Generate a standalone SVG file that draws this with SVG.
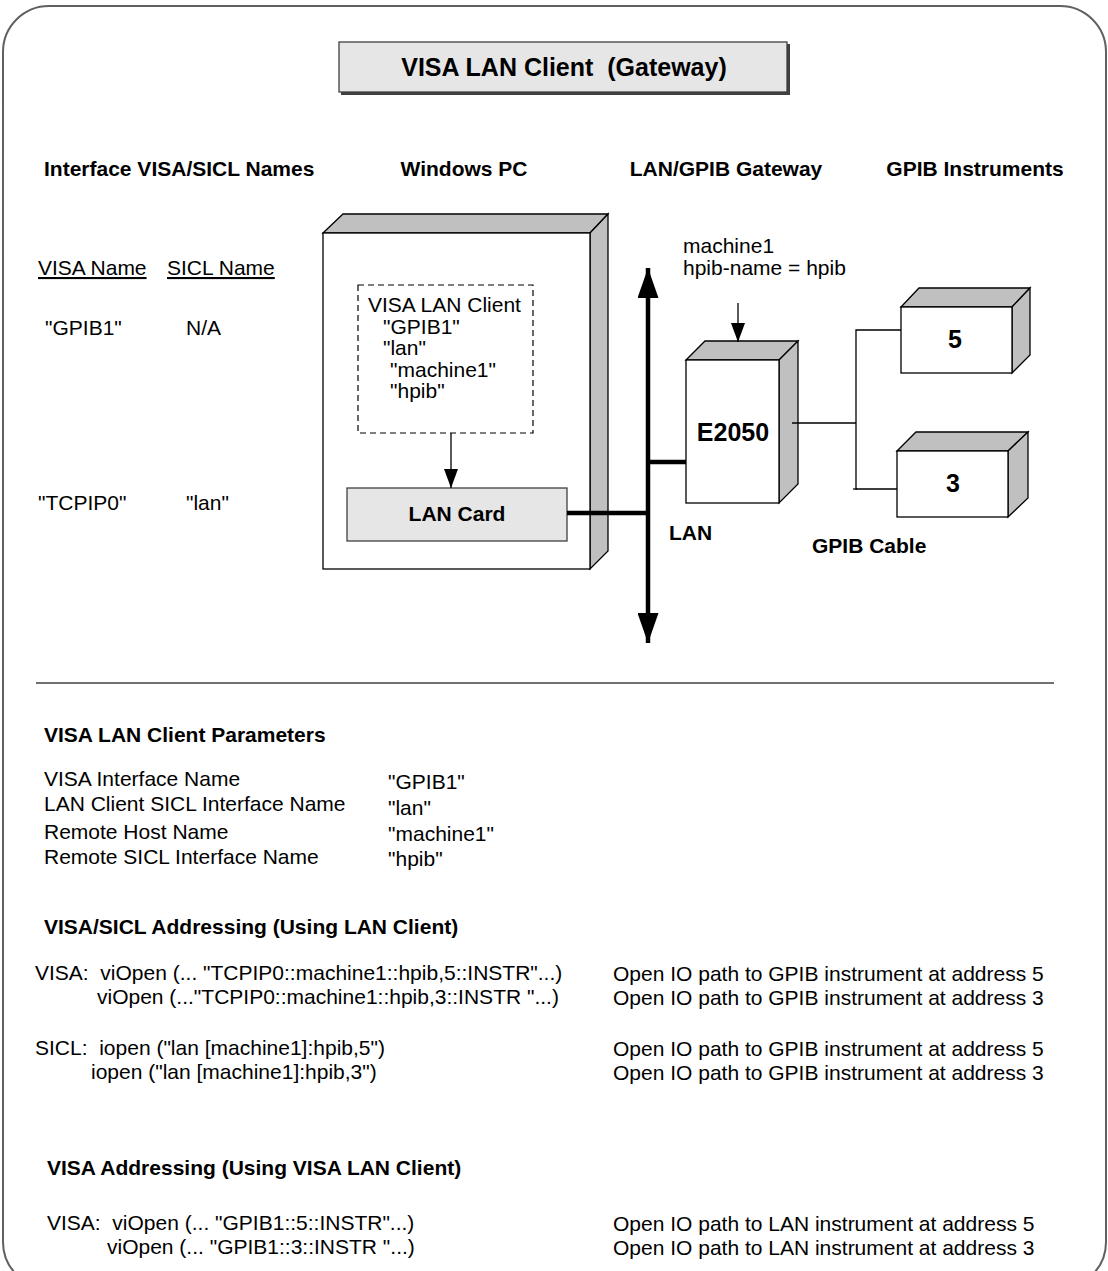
<svg xmlns="http://www.w3.org/2000/svg" width="1108" height="1271" viewBox="0 0 1108 1271">
<style>
text{font-family:"Liberation Sans",Arial,sans-serif;fill:#000}
.r{font-size:21px}
.b{font-size:21px;font-weight:bold}
.big{font-size:25px;font-weight:bold}
.face{fill:#fff;stroke:#000;stroke-width:1.3}
.side{fill:#c0c0c0;stroke:#000;stroke-width:1.3}
.thin{stroke:#000;stroke-width:1.3;fill:none}
.thick{stroke:#000;stroke-width:4.5;fill:none}
</style>
<defs>
<marker id="ah" viewBox="0 0 19 14" refX="19" refY="7" markerWidth="19" markerHeight="14" markerUnits="userSpaceOnUse" orient="auto"><path d="M0,0 L19,7 L0,14 z" fill="#000"/></marker>
<marker id="big" viewBox="0 0 30 21" refX="30" refY="10.5" markerWidth="30" markerHeight="21" markerUnits="userSpaceOnUse" orient="auto"><path d="M0,0 L30,10.5 L0,21 z" fill="#000"/></marker>
</defs>
<rect x="3" y="6" width="1103" height="1282" rx="46" ry="46" fill="#fff" stroke="#606060" stroke-width="2"/>

<g id="title">
<rect x="341" y="44" width="449" height="51" fill="#404040"/>
<rect x="339" y="42" width="448" height="50" fill="#e6e6e6" stroke="#404040" stroke-width="1.3"/>
<text x="564" y="76" text-anchor="middle" font-size="25" font-weight="bold" xml:space="preserve">VISA LAN Client  (Gateway)</text>
</g>

<g id="headers">
<text class="b" x="44" y="176">Interface VISA/SICL Names</text>
<text class="b" x="464" y="176" text-anchor="middle">Windows PC</text>
<text class="b" x="726" y="176" text-anchor="middle">LAN/GPIB Gateway</text>
<text class="b" x="975" y="176" text-anchor="middle">GPIB Instruments</text>
</g>

<g id="names">
<text class="r" x="38" y="275" text-decoration="underline">VISA Name</text>
<text class="r" x="167" y="275" text-decoration="underline">SICL Name</text>
<text class="r" x="45" y="335">"GPIB1"</text>
<text class="r" x="186" y="335">N/A</text>
<text class="r" x="38" y="510">"TCPIP0"</text>
<text class="r" x="186" y="510">"lan"</text>
</g>

<g id="windows-pc">
<path class="side" d="M323,233 L343,214 L608,214 L590,233 Z"/>
<path class="side" d="M590,233 L608,214 L608,551 L590,569 Z"/>
<rect class="face" x="323" y="233" width="267" height="336"/>
</g>

<g id="visa-lan-client">
<rect x="358" y="285" width="175" height="148" fill="none" stroke="#000" stroke-width="1.2" stroke-dasharray="6,4"/>
<text class="r" x="368" y="312">VISA LAN Client</text>
<text class="r" x="383" y="334">"GPIB1"</text>
<text class="r" x="383" y="355">"lan"</text>
<text class="r" x="390" y="377">"machine1"</text>
<text class="r" x="390" y="398">"hpib"</text>
</g>

<g id="lan-card">
<rect x="347" y="488" width="220" height="53" fill="#e6e6e6" stroke="#404040" stroke-width="1.3"/>
<text class="b" x="457" y="521" text-anchor="middle">LAN Card</text>
</g>

<g id="e2050">
<path class="side" d="M686,360 L705,341 L798,341 L779,360 Z"/>
<path class="side" d="M779,360 L798,341 L798,484 L779,503 Z"/>
<rect class="face" x="686" y="360" width="93" height="143"/>
<text class="big" x="733" y="441" text-anchor="middle">E2050</text>
</g>

<g id="gateway-label">
<text class="r" x="683" y="253">machine1</text>
<text class="r" x="683" y="275">hpib-name = hpib</text>
</g>

<g id="instrument-5">
<path class="side" d="M901,307 L919,288 L1030,288 L1012,307 Z"/>
<path class="side" d="M1012,307 L1030,288 L1030,355 L1012,373 Z"/>
<rect class="face" x="901" y="307" width="111" height="66"/>
<text class="big" x="955" y="348" text-anchor="middle" font-size="24">5</text>
</g>

<g id="instrument-3">
<path class="side" d="M897,451 L916,432 L1028,432 L1008,451 Z"/>
<path class="side" d="M1008,451 L1028,432 L1028,498 L1008,517 Z"/>
<rect class="face" x="897" y="451" width="111" height="66"/>
<text class="big" x="953" y="492" text-anchor="middle" font-size="24">3</text>
</g>

<g id="labels">
<text class="b" x="669" y="540">LAN</text>
<text class="b" x="812" y="553">GPIB Cable</text>
</g>

<g id="connectors">
<line class="thin" x1="451" y1="433" x2="451" y2="488" marker-end="url(#ah)"/>
<line class="thin" x1="738" y1="303" x2="738" y2="342" marker-end="url(#ah)"/>
<line class="thick" x1="648" y1="400" x2="648" y2="268" marker-end="url(#big)"/>
<line class="thick" x1="648" y1="400" x2="648" y2="643" marker-end="url(#big)"/>
<line class="thick" x1="567" y1="513" x2="650" y2="513"/>
<line class="thick" x1="646" y1="462" x2="686" y2="462"/>
<line class="thin" x1="792" y1="423" x2="856" y2="423"/>
<polyline class="thin" points="901,330 856,330 856,489 897,489"/>
<line class="thin" x1="853" y1="489" x2="857" y2="489"/>
</g>

<line x1="36" y1="683" x2="1054" y2="683" stroke="#707070" stroke-width="2"/>

<g id="parameters">
<text class="b" x="44" y="742">VISA LAN Client Parameters</text>
<text class="r" x="44" y="786">VISA Interface Name</text>
<text class="r" x="44" y="811">LAN Client SICL Interface Name</text>
<text class="r" x="44" y="839">Remote Host Name</text>
<text class="r" x="44" y="864">Remote SICL Interface Name</text>
<text class="r" x="388" y="789">"GPIB1"</text>
<text class="r" x="388" y="815">"lan"</text>
<text class="r" x="388" y="841">"machine1"</text>
<text class="r" x="388" y="866">"hpib"</text>
</g>

<g id="visa-sicl-addressing">
<text class="b" x="44" y="934">VISA/SICL Addressing (Using LAN Client)</text>
<text class="r" x="35" y="980" xml:space="preserve">VISA:  viOpen (... "TCPIP0::machine1::hpib,5::INSTR"...)</text>
<text class="r" x="97" y="1004">viOpen (..."TCPIP0::machine1::hpib,3::INSTR "...)</text>
<text class="r" x="35" y="1055" xml:space="preserve">SICL:  iopen ("lan [machine1]:hpib,5")</text>
<text class="r" x="91" y="1079">iopen ("lan [machine1]:hpib,3")</text>
<text class="r" x="613" y="981">Open IO path to GPIB instrument at address 5</text>
<text class="r" x="613" y="1005">Open IO path to GPIB instrument at address 3</text>
<text class="r" x="613" y="1056">Open IO path to GPIB instrument at address 5</text>
<text class="r" x="613" y="1080">Open IO path to GPIB instrument at address 3</text>
</g>

<g id="visa-addressing">
<text class="b" x="47" y="1175">VISA Addressing (Using VISA LAN Client)</text>
<text class="r" x="47" y="1230" xml:space="preserve">VISA:  viOpen (... "GPIB1::5::INSTR"...)</text>
<text class="r" x="107" y="1254">viOpen (... "GPIB1::3::INSTR "...)</text>
<text class="r" x="613" y="1231">Open IO path to LAN instrument at address 5</text>
<text class="r" x="613" y="1255">Open IO path to LAN instrument at address 3</text>
</g>
</svg>
